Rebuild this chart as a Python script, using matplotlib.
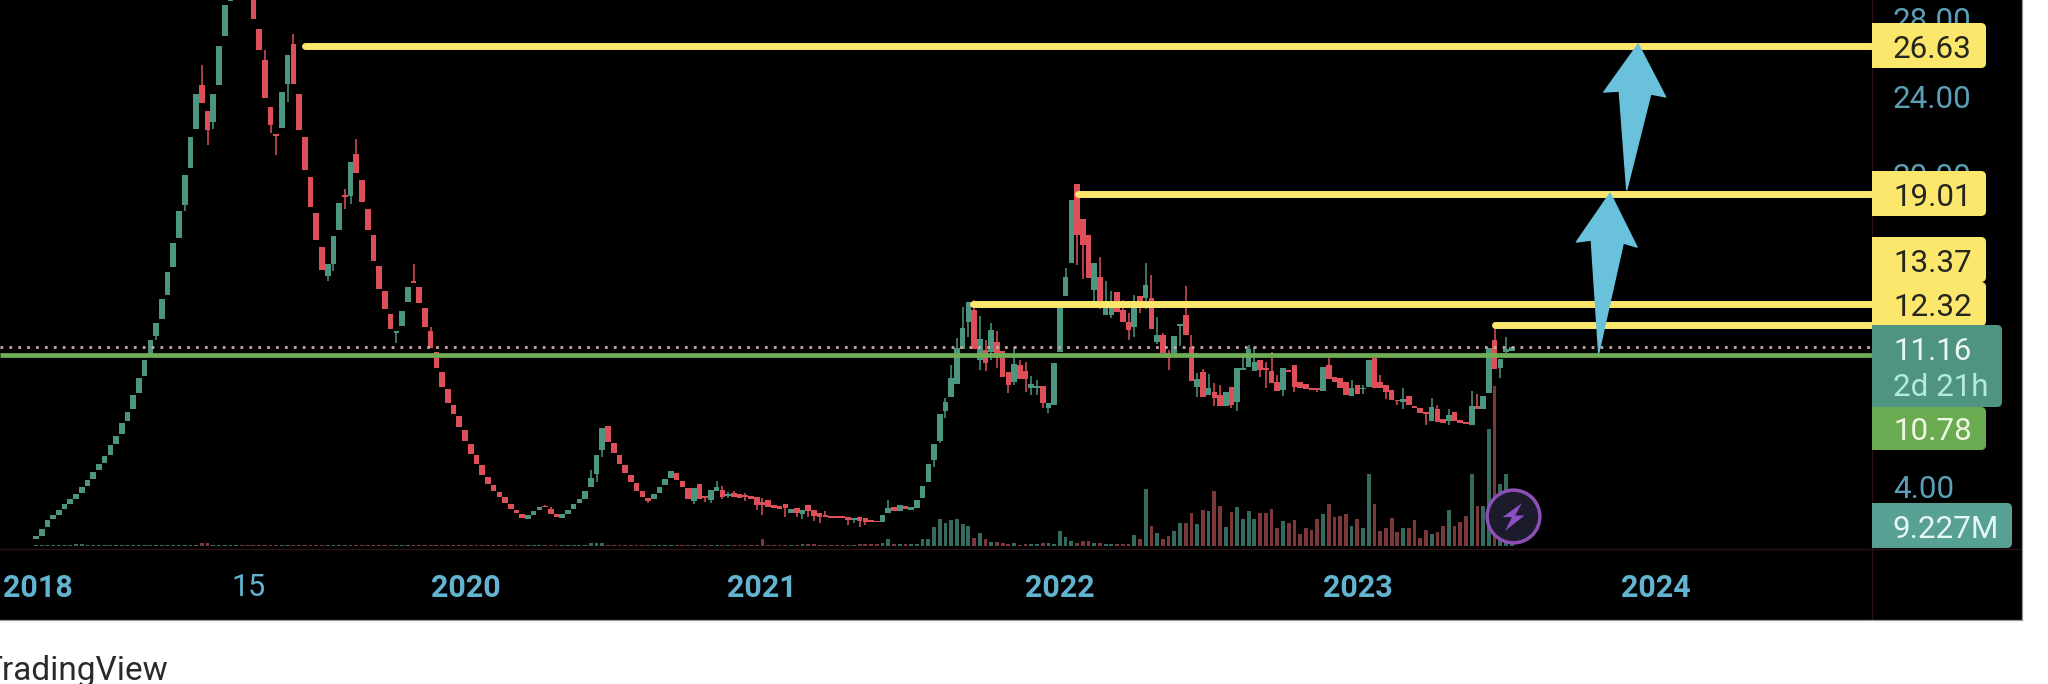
import matplotlib
matplotlib.use("Agg")
import matplotlib.pyplot as plt
import numpy as np
from matplotlib.patches import FancyBboxPatch, Polygon, Rectangle
from matplotlib.path import Path

plt.rcParams['font.family'] = ['Roboto', 'DejaVu Sans']

opens = [1.31,1.50,1.94,2.38,2.56,2.87,3.15,3.40,3.70,4.06,
4.43,4.85,5.23,5.62,6.20,6.73,7.39,7.98,8.82,9.68,
10.65,11.72,12.61,13.84,15.27,16.79,18.44,20.34,22.38,24.63,
23.26,22.71,24.59,27.12,28.90,31.20,33.50,32.50,29.70,27.47,
25.89,23.46,22.10,22.43,24.68,26.70,24.17,21.94,19.87,18.04,
16.33,14.81,15.43,17.19,18.99,18.90,21.06,19.76,18.27,16.92,
15.33,14.06,12.85,11.92,12.25,13.46,14.50,14.26,13.18,11.99,
10.93,9.90,9.02,8.20,7.63,6.90,6.22,5.64,5.12,4.52,
4.10,3.76,3.47,3.12,2.83,2.63,2.34,2.58,2.82,3.00,
2.88,2.63,2.39,2.63,2.87,3.16,3.40,3.98,4.66,5.89,
7.14,6.23,5.64,5.12,4.63,4.18,3.81,3.41,3.36,3.67,
4.08,4.44,4.71,4.30,3.94,3.28,4.15,3.55,3.33,3.79,
3.84,3.55,3.67,3.64,3.57,3.55,3.47,3.23,3.31,3.07,
3.04,3.11,2.68,2.94,2.61,3.06,2.82,2.65,2.54,2.49,
2.47,2.47,2.44,2.30,2.44,2.42,2.30,2.23,2.22,2.65,
2.99,2.75,3.02,2.82,2.94,3.45,4.24,5.38,6.37,7.91,
8.59,9.27,11.10,12.44,13.10,10.50,11.02,10.93,11.44,10.97,
9.91,9.39,10.25,9.96,9.05,9.10,9.19,8.03,8.20,10.90,
13.80,15.46,19.53,17.72,16.91,14.09,14.78,12.81,12.81,14.01,
13.07,12.47,12.21,13.80,13.67,13.67,11.44,11.79,10.88,10.85,
12.26,12.81,11.19,9.14,9.91,8.74,8.88,8.74,8.14,9.14,
8.37,9.99,10.13,9.96,10.50,10.06,9.96,9.39,8.97,9.99,
10.28,9.36,9.28,9.05,9.05,8.93,10.25,9.65,9.57,9.40,
8.68,9.23,9.00,9.14,10.59,9.40,9.23,8.97,8.46,8.37,
8.66,8.17,8.03,7.81,7.38,7.98,7.48,7.40,7.82,7.43,
7.33,7.17,8.15,7.98,8.83,11.53,10.08,10.93,10.95]

closes = [1.50,1.86,2.29,2.56,2.83,3.15,3.37,3.64,4.01,4.35,
4.78,5.16,5.58,6.13,6.61,7.29,7.87,8.70,9.59,10.49,
11.52,12.43,13.64,15.00,16.50,18.13,20.00,21.96,24.17,23.71,
22.32,24.13,26.59,28.73,31.00,33.50,32.80,29.90,28.00,26.39,
23.92,22.54,21.99,24.23,26.17,24.65,22.32,20.23,18.35,16.66,
15.12,15.42,16.88,18.57,18.86,20.64,20.12,18.59,17.19,15.60,
14.13,13.13,12.12,12.01,13.00,14.26,14.46,13.42,12.19,11.11,
10.11,9.15,8.33,7.76,7.05,6.35,5.71,5.20,4.61,4.15,
3.81,3.50,3.16,2.87,2.65,2.39,2.54,2.75,2.95,2.95,
2.63,2.44,2.59,2.83,3.12,3.38,3.81,4.44,5.65,7.02,
6.29,5.72,5.18,4.70,4.25,3.81,3.48,3.29,3.65,4.00,
4.39,4.81,4.35,4.00,3.38,3.94,3.38,3.41,3.84,4.01,
3.48,3.64,3.50,3.45,3.47,3.36,3.07,3.06,2.99,2.92,
2.88,2.90,2.88,2.65,2.82,2.77,2.51,2.44,2.44,2.39,
2.41,2.41,2.30,2.41,2.27,2.22,2.20,2.18,2.58,2.94,
2.75,3.06,2.85,2.99,3.33,4.05,5.17,6.20,7.74,8.37,
9.61,11.15,12.13,13.46,11.05,11.60,10.38,12.04,10.59,9.65,
9.22,10.33,9.56,9.53,9.27,9.17,8.33,8.32,10.38,13.20,
14.78,18.71,16.91,16.40,14.69,15.50,13.50,13.51,13.51,12.98,
12.47,12.04,13.24,13.38,14.35,12.08,11.79,10.88,10.59,11.75,
12.38,11.79,9.44,9.56,8.59,9.05,8.54,8.14,8.88,8.20,
10.11,10.10,11.10,10.42,9.99,9.99,9.34,8.91,10.08,9.92,
9.14,9.10,9.00,8.97,8.97,10.17,9.55,9.40,9.09,8.71,
9.07,8.76,9.09,10.51,9.05,9.05,8.88,8.46,8.39,8.49,
8.20,8.03,7.77,7.74,8.08,7.34,7.26,7.69,7.38,7.29,
7.21,8.17,7.98,8.66,11.11,10.03,10.54,11.05,11.16]

wick_highs = {29:25.64,40:26.41,45:27.23,54:19.30,56:21.83,66:15.42,69:12.21,89:3.07,90:2.99,97:4.87,
119:4.30,120:4.05,121:3.76,122:3.81,124:3.70,127:3.42,138:2.78,149:3.33,159:8.54,160:10.25,161:11.65,162:13.24,
164:13.58,165:12.76,166:11.53,167:12.42,168:11.99,171:11.19,172:10.50,173:10.42,174:9.70,175:9.51,
180:15.24,186:15.80,187:14.55,188:14.06,190:13.58,191:12.90,192:13.84,194:15.46,195:14.86,196:12.72,
197:11.92,198:11.02,201:14.30,202:11.79,203:9.82,204:10.04,205:9.77,206:9.34,207:9.22,211:10.67,212:11.27,
213:11.19,215:10.42,216:10.93,217:9.73,226:10.63,230:9.48,232:9.23,235:9.74,239:9.05,244:8.58,245:8.20,
247:7.98,251:8.93,252:8.75,255:12.47,257:11.70}

wick_lows = {21:11.53,26:18.16,30:21.55,31:22.38,41:22.14,42:21.00,44:23.75,51:14.56,52:15.10,54:18.26,
55:18.53,63:11.39,98:4.27,99:5.55,107:3.19,115:3.11,117:3.24,118:3.16,120:3.38,121:3.41,124:3.28,126:2.82,
127:2.56,131:2.47,133:2.47,134:2.35,135:2.47,136:2.27,137:2.17,142:2.06,143:2.17,144:1.96,145:2.05,157:5.04,
158:6.23,159:7.56,163:11.70,165:10.02,166:9.94,167:10.50,168:10.08,170:8.83,171:9.22,173:8.85,174:8.74,175:8.74,
176:8.06,177:7.80,182:15.38,183:14.64,185:13.41,186:13.15,188:12.64,191:11.53,192:11.70,193:12.93,194:13.15,
196:11.31,198:10.02,199:10.67,200:11.22,203:8.62,206:8.16,209:8.03,210:7.91,214:9.65,215:9.05,218:8.67,220:8.85,
224:8.85,232:8.76,236:8.49,238:8.20,239:7.99,243:7.17,247:7.17,256:9.60,257:10.60}

volumes_m = [0.5,0.5,0.5,0.5,0.5,0.5,0.5,1.0,1.0,0.5,
0.5,0.5,0.5,0.5,0.5,0.5,0.5,0.5,0.5,0.5,
0.5,0.5,0.5,0.5,0.5,0.5,0.5,0.5,0.5,1.4,
1.4,0.5,0.5,0.5,0.5,0.5,0.5,0.5,0.5,0.5,
0.5,0.5,0.5,0.5,0.5,0.5,0.5,0.5,0.5,0.5,
0.5,0.5,0.5,0.5,0.5,0.5,0.5,0.5,0.5,0.5,
0.5,0.5,0.5,0.5,0.5,0.5,0.5,0.5,0.5,0.5,
0.5,0.5,0.5,0.5,0.5,0.5,0.5,0.5,0.5,0.5,
0.5,0.5,0.5,0.5,0.5,0.5,0.5,0.5,0.5,0.5,
0.5,0.5,0.5,0.5,0.5,0.5,0.5,1.2,1.2,1.2,
0.5,0.5,0.5,0.5,0.5,0.5,0.5,0.5,0.5,0.5,
0.5,0.5,0.5,0.5,0.5,0.5,0.5,0.5,0.5,0.5,
0.5,0.5,0.5,0.5,0.5,0.5,0.5,3.4,0.5,0.5,
0.5,0.5,0.5,0.5,0.9,0.9,0.9,0.5,0.5,0.5,
0.5,0.5,0.5,0.5,0.9,0.9,0.9,0.9,1.6,3.3,
0.7,0.7,0.7,0.7,1.0,
3.0,3.0,8.9,12.4,10.4,11.9,12.4,10.0,9.2,3.5,
5.8,3.1,2.0,2.0,1.2,0.8,1.2,0.6,1.0,0.7,
0.7,1.2,1.2,0.7,6.9,4.0,2.4,1.5,2.4,2.1,
1.5,1.2,0.9,0.9,0.9,0.9,0.9,5.0,3.2,26.0,
9.3,5.8,3.2,4.6,6.9,10.7,10.4,15.0,10.0,16.5,
15.9,25.4,18.5,8.9,15.5,18.0,12.4,15.9,12.4,15.0,
15.0,16.8,8.1,11.6,10.4,11.9,5.5,8.1,7.3,12.2,
14.8,19.4,13.3,13.6,14.8,9.3,12.5,8.4,33.0,19.4,
6.9,8.4,12.9,6.4,8.4,8.4,11.8,3.8,7.2,5.4,
6.4,9.2,16.4,9.3,11.0,13.6,33.0,18.5,18.5,53.6,
73.7,28.3,33.2,9.227]

level_prices = [26.63, 19.01, 13.37, 12.32]
level_starts = [47.0, 182.2, 163.8, 255.0]
last_price = 11.16
green_level = 10.78

price_ticks = [4, 8, 12, 16, 20, 24, 28]
x_tick_pos = [0.3, 37.2, 75.2, 126.9, 179.0, 231.1, 283.2]
x_tick_labels = ['2018', '15', '2020', '2021', '2022', '2023', '2024']

arrow_upper = [(280.1,26.71),(284.9,24.00),(282.3,24.15),(278.1,19.23),(276.8,24.30),(274.1,24.25)]
arrow_lower = [(275.2,19.07),(279.9,16.30),(277.5,16.51),(273.2,10.87),(271.9,16.66),(269.3,16.56)]

GREEN = '#4c9580'; RED = '#df4f59'; V_GREEN = '#356b5e'; V_RED = '#7a3838'
YELLOW = '#fbe76c'; LINE_GREEN = '#6fae55'; TICK = '#5a9fb7'; TICK_X = '#62b4d0'

W, H = 2048, 684
fig = plt.figure(figsize=(W/100, H/100), dpi=100, facecolor='white')

def box(x0, y0, x1, y1):
    return [x0/W, 1-y1/H, (x1-x0)/W, (y1-y0)/H]

bg = fig.add_axes(box(0, 0, 2022, 620), facecolor='black', zorder=0)
bg.set_xticks([]); bg.set_yticks([])
for s in ('top', 'left'):
    bg.spines[s].set_visible(False)
for s in ('right', 'bottom'):
    bg.spines[s].set_color('#9a9a9a'); bg.spines[s].set_linewidth(0.9)
# faint pane dividers of the chart
bg.set_xlim(0, 2022); bg.set_ylim(620, 0)
bg.axvline(1872, color='#2c1214', lw=1.0)
bg.axhline(549, color='#2c1214', lw=1.0)

xlim = (-6.29, 320.98)
axv = fig.add_axes(box(0, 0, 1872, 549), facecolor='none', zorder=1)
axv.set_xlim(*xlim); axv.set_ylim(-1.38, 251.2); axv.axis('off')
ax = fig.add_axes(box(0, 0, 1872, 549), facecolor='none', zorder=2)
ax.set_xlim(*xlim); ax.set_ylim(0.82, 28.97)

idx = np.arange(len(closes))
o = np.array(opens); c = np.array(closes)
up = c >= o
bar_cols = [GREEN if u else RED for u in up]
vol_cols = [V_GREEN if u else V_RED for u in up]

axv.bar(idx, volumes_m, width=0.66, color=vol_cols, linewidth=0)

hi = np.maximum(o, c); lo = np.minimum(o, c)
wh = hi.copy(); wl = lo.copy()
for k, v in wick_highs.items():
    wh[k] = v
for k, v in wick_lows.items():
    wl[k] = v
ax.vlines(idx, wl, wh, colors=bar_cols, linewidth=1.1, zorder=2)
ax.bar(idx, np.maximum(hi-lo, 0.09), bottom=lo, width=0.98, color=bar_cols, linewidth=0, zorder=3)

ax.plot(xlim, [last_price, last_price], color='#c8a8a0', lw=2.0, ls=(0, (1, 2.2)), zorder=4)
ax.plot(xlim, [green_level, green_level], color=LINE_GREEN, lw=3.4, zorder=5, solid_capstyle='butt')
for p, s in zip(level_prices, level_starts):
    ax.plot([s, xlim[1]], [p, p], color=YELLOW, lw=5.0, solid_capstyle='round', zorder=6)
for a in (arrow_upper, arrow_lower):
    ax.add_patch(Polygon(a, closed=True, facecolor='#69c1dc', edgecolor='#69c1dc', lw=1.0, joinstyle='round', zorder=7))

ax.scatter([258.2], [2.51], s=1444, facecolor='#1b1b2b', edgecolor='#8d4fb5', linewidth=2.5, zorder=8)
bolt = Path([(25,40),(-33,-2),(-5,-2),(-25,-43),(33,3),(5,3),(25,40)], closed=True)
ax.scatter([258.2], [2.51], s=425, marker=bolt, color='#8d4fc4', linewidth=0, zorder=9)

for s in ax.spines.values():
    s.set_visible(False)
ax.yaxis.tick_right()
ax.set_yticks(price_ticks, [f'{v:.2f}' for v in price_ticks])
ax.tick_params(axis='y', length=0, pad=15, labelsize=22.6, labelcolor=TICK)
ax.set_xticks(x_tick_pos, x_tick_labels)
ax.tick_params(axis='x', length=0, pad=17.5, labelsize=22, labelcolor=TICK_X)
for t in ax.get_xticklabels():
    t.set_fontweight('normal' if t.get_text() == '15' else 'bold')

# overlay in figure pixels for the price-scale tags
ov = fig.add_axes([0, 0, 1, 1], facecolor='none', zorder=3)
ov.set_xlim(0, W); ov.set_ylim(H, 0); ov.axis('off')

def tag(x1, y0, y1, col, z):
    ov.add_patch(FancyBboxPatch((1876, y0+4), x1-1876-4, y1-y0-8, boxstyle='round,pad=4,rounding_size=5',
                                facecolor=col, edgecolor='none', zorder=z, clip_on=False))
    ov.add_patch(Rectangle((1872, y0), 9, y1-y0, facecolor=col, edgecolor='none', zorder=z))

tag(1986, 23, 68, YELLOW, 2)
tag(1986, 171, 216, YELLOW, 2)
tag(1986, 237, 282, YELLOW, 2)
tag(1986, 282, 326, YELLOW, 2)
tag(1986, 407, 450, '#6aab52', 3)
tag(2002, 325, 407, '#4f9480', 4)
tag(2012, 503, 548, '#56a094', 3)

def lab(y, s, col):
    ov.text(1893, y, s, color=col, fontsize=22.6, va='center_baseline', ha='left', zorder=6)

lab(46, '26.63', '#26261e')
lab(194, '19.01', '#26261e')
lab(260, '13.37', '#26261e')
lab(304, '12.32', '#26261e')
lab(348, '11.16', '#e9f7f2')
lab(384, '2d 21h', '#b4ecd9')
lab(428, '10.78', '#eef7e2')
lab(526, '9.227M', '#e6f6f3')

ov.text(-18, 680, 'TradingView', color='#2a2a2e', fontsize=24, va='baseline', ha='left')

fig.savefig('out.png', dpi=100, facecolor='white')
